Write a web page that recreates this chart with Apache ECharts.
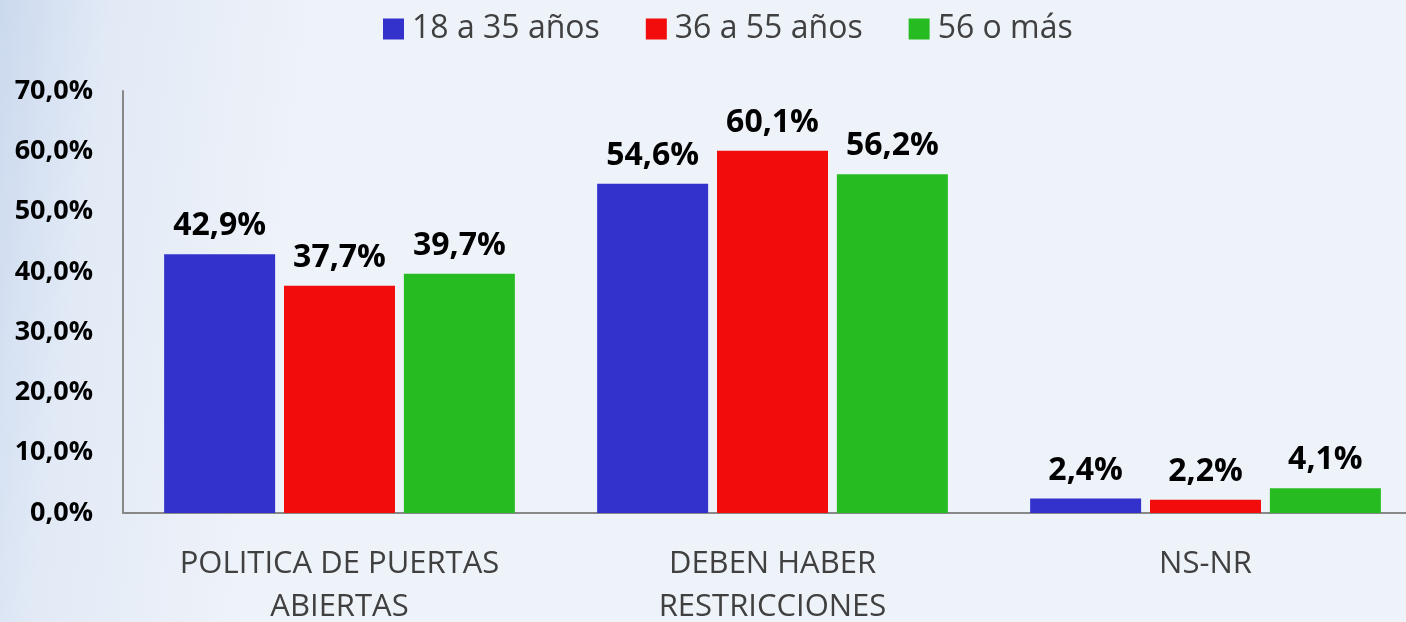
<!DOCTYPE html>
<html>
<head>
<meta charset="utf-8">
<script src="https://cdn.jsdelivr.net/npm/echarts@6/dist/echarts.min.js"></script>
<style>
  html, body { margin: 0; padding: 0; }
  #chart { width: 1406px; height: 622px; }
</style>
</head>
<body>
<div id="chart"></div>
<script>
// ── Data ──────────────────────────────────────────────────────────────────────
const categories = ['POLITICA DE PUERTAS\nABIERTAS', 'DEBEN HABER\nRESTRICCIONES', 'NS-NR'];
const seriesNames = ['18 a 35 años', '36 a 55 años', '56 o más'];
const young  = [42.9, 54.6, 2.4];
const middle = [37.7, 60.1, 2.2];
const older  = [39.7, 56.2, 4.1];
const colors = ['#3333cc', '#f20c0c', '#27bb22'];

const FONT = '"Open Sans", "Noto Sans", sans-serif';
const fmt = v => v.toFixed(1).replace('.', ',') + '%';

const chart = echarts.init(document.getElementById('chart'), null, { renderer: 'canvas' });

const label = {
  show: true,
  position: 'top',
  distance: 12,
  color: '#000',
  fontFamily: FONT,
  fontWeight: 'bold',
  fontSize: 32,
  formatter: p => fmt(p.value),
};

chart.setOption({
  backgroundColor: {
    type: 'linear', x: 0, y: 0, x2: 1, y2: 0.3,
    colorStops: [
      { offset: 0, color: '#cbd9ee' },
      { offset: 0.08, color: '#e2eaf6' },
      { offset: 0.22, color: '#eef2f9' },
      { offset: 1, color: '#eef2f9' },
    ],
  },
  animation: false,
  legend: {
    top: 8,
    left: 378,
    itemWidth: 21,
    itemHeight: 21,
    itemGap: 46,
    icon: 'rect',
    textStyle: { color: '#404040', fontSize: 32, fontFamily: FONT, padding: [0, 0, 0, 3] },
    data: seriesNames,
  },
  grid: { left: 123, right: -16, top: 91, bottom: 109, outerBoundsMode: 'none', containLabel: false },
  xAxis: {
    type: 'category',
    data: categories,
    axisLine: { lineStyle: { color: '#888', width: 2 } },
    axisTick: { show: false },
    axisLabel: {
      color: '#404040', fontSize: 31, fontFamily: FONT,
      lineHeight: 43, margin: 30, interval: 0,
    },
  },
  yAxis: {
    type: 'value',
    min: 0, max: 70, interval: 10,
    axisLine: { show: true, lineStyle: { color: '#888', width: 2 } },
    axisTick: { show: false },
    splitLine: { show: false },
    axisLabel: {
      color: '#000', fontSize: 27, fontWeight: 'bold', fontFamily: FONT,
      margin: 30, formatter: v => fmt(v),
    },
  },
  series: [
    { name: seriesNames[0], type: 'bar', data: young,  itemStyle: { color: colors[0] }, barGap: '8%', barCategoryGap: '19%', label },
    { name: seriesNames[1], type: 'bar', data: middle, itemStyle: { color: colors[1] }, barGap: '8%', barCategoryGap: '19%', label },
    { name: seriesNames[2], type: 'bar', data: older,  itemStyle: { color: colors[2] }, barGap: '8%', barCategoryGap: '19%', label },
  ],
});
</script>
</body>
</html>
